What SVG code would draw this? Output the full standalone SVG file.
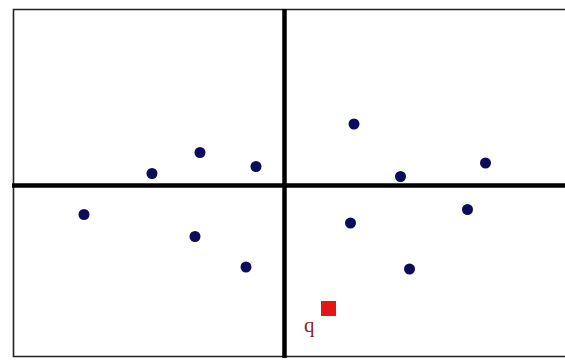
<svg xmlns="http://www.w3.org/2000/svg" width="565" height="364" viewBox="0 0 565 364">
<style>
.frame{fill:none;stroke:#222;stroke-width:1.6}
.axis{stroke:#000;stroke-width:4.5}
.pt{fill:#0c0c5c}
.q{fill:#e51515}
.lbl{font-family:"Liberation Serif",serif;font-size:21px;fill:#8b1e1e}
</style>
<rect x="0" y="0" width="565" height="364" fill="#fff"/>
<g id="frame"><path class="frame" d="M566,9.5 H13.5 V356.5 H566"/></g>
<g id="connectors">
<line class="axis" x1="284.5" y1="9" x2="284.5" y2="358"/>
<line class="axis" x1="12" y1="185.5" x2="565" y2="185.5"/>
</g>
<g id="p1"><circle class="pt" cx="152" cy="173.5" r="5.5"/></g>
<g id="p2"><circle class="pt" cx="200" cy="152.5" r="5.5"/></g>
<g id="p3"><circle class="pt" cx="256" cy="166.5" r="5.5"/></g>
<g id="p4"><circle class="pt" cx="84" cy="214.5" r="5.5"/></g>
<g id="p5"><circle class="pt" cx="195" cy="236.5" r="5.5"/></g>
<g id="p6"><circle class="pt" cx="246" cy="267" r="5.5"/></g>
<g id="p7"><circle class="pt" cx="354" cy="124" r="5.5"/></g>
<g id="p8"><circle class="pt" cx="400.5" cy="176.5" r="5.5"/></g>
<g id="p9"><circle class="pt" cx="485.5" cy="163" r="5.5"/></g>
<g id="p10"><circle class="pt" cx="467.5" cy="209.5" r="5.5"/></g>
<g id="p11"><circle class="pt" cx="350.5" cy="223" r="5.5"/></g>
<g id="p12"><circle class="pt" cx="409.5" cy="269" r="5.5"/></g>
<g id="query">
<rect class="q" x="321" y="301" width="15" height="15"/>
<text class="lbl" x="304" y="332">q</text>
</g>
</svg>
